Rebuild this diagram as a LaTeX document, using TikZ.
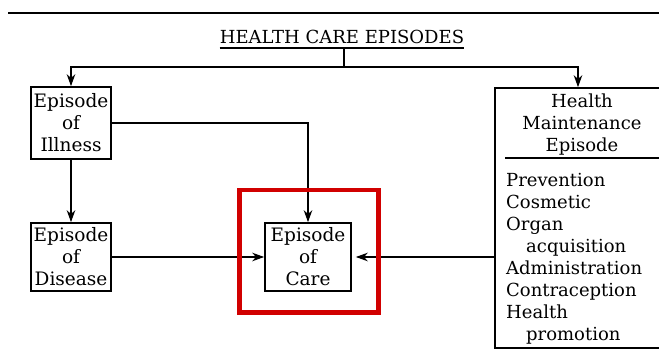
\documentclass[tikz,border=0pt]{standalone}
\usepackage{fontspec}
\setmainfont{DejaVu Serif}
\usetikzlibrary{arrows.meta}
\begin{document}
\begin{tikzpicture}[x=1pt,y=-1pt,
  box/.style={draw, line width=1.6pt, inner sep=0pt, align=center, font=\fontsize{18.5}{22}\selectfont},
  txt/.style={inner sep=0pt, font=\fontsize{18}{22}\selectfont},
  arr/.style={-{Stealth[length=12pt,width=8.5pt]}, line width=1.9pt},
  ln/.style={line width=1.9pt},
  redbox/.style={draw=red!82!black, line width=4.5pt}]
\clip (0,0) rectangle (659,353);
\fill[white] (0,0) rectangle (659,353);
% top rule
\coordinate (r1) at (8,13);
\coordinate (r2) at (659,13);
\draw[line width=2pt] (r1) -- (r2);
% title
\node[txt] (title) at (342,37) {HEALTH CARE EPISODES};
\draw[ln] ([yshift=-4pt]title.south west) -- ([yshift=-4pt]title.south east);
\coordinate (j) at (344,67);
\draw[ln] ([yshift=-4pt]title.south -| j) -- (j);
% boxes
\node[box, minimum width=80pt, minimum height=72pt] (ill) at (71,123) {Episode\\of\\Illness};
\node[box, minimum width=80pt, minimum height=68pt] (dis) at (71,257) {Episode\\of\\Disease};
\node[box, minimum width=86pt, minimum height=68pt] (care) at (308,257) {Episode\\of\\Care};
\node[box, minimum width=174pt, minimum height=260pt] (hm) at (582,218) {};
\node[txt, align=center] (hmh) at (582,124.5) {Health\\Maintenance\\Episode};
\coordinate (sepy) at (0,158);
\draw[ln] ([xshift=11pt]hm.west |- sepy) -- (hm.east |- sepy);
\node[txt, align=left, anchor=north west] (hml) at (506,173.5) {Prevention\\Cosmetic\\Organ\\\hspace*{20pt}acquisition\\Administration\\Contraception\\Health\\\hspace*{20pt}promotion};
% connectors
\draw[arr] (j) -| (ill.north);
\draw[arr] (j) -| ([xshift=-4pt]hm.north);
\draw[arr] (ill.east) -| (care.north);
\draw[arr] (ill) -- (dis);
\draw[arr] (dis.east) -- (dis.east -| care.west);
\draw[arr] (hm.west |- care.east) -- ([xshift=4pt]care.east);
% highlight
\coordinate (h1) at (239.5,190);
\coordinate (h2) at (378.5,312.5);
\draw[redbox] (h1) rectangle (h2);
\end{tikzpicture}
\end{document}
